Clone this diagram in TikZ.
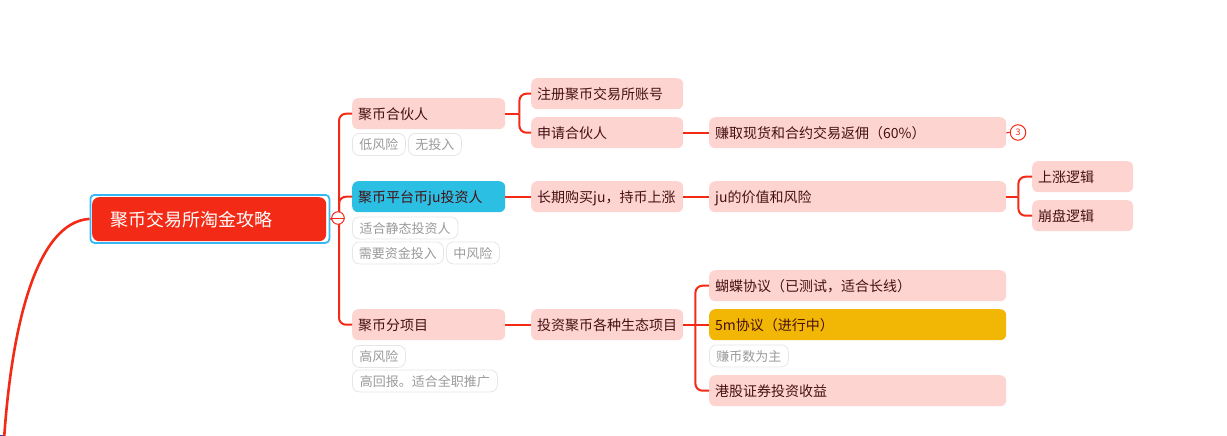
\documentclass[tikz,border=0pt]{standalone}
\usepackage{fontspec}
\setmainfont{Noto Sans CJK SC}
\definecolor{linkred}{HTML}{F32A16}
\definecolor{pinkfill}{HTML}{FDD4D0}
\definecolor{bluefill}{HTML}{2BBFE3}
\definecolor{goldfill}{HTML}{F2B705}
\definecolor{pinktext}{HTML}{451012}
\definecolor{tagline}{HTML}{E6E6E6}
\definecolor{tagtext}{HTML}{9A9A9A}
\definecolor{selectblue}{HTML}{35B8F5}
\definecolor{parentblue}{HTML}{3344CC}
\tikzset{
	topicbox/.style={anchor=north west, rounded corners=6, fill=pinkfill, text=pinktext, font=\fontsize{14}{14}\selectfont, align=left, text width=#1-12, text height=13, text depth=1, minimum height=31, inner xsep=6, inner ysep=0},
	tagbox/.style={anchor=north west, rounded corners=7, draw=tagline, fill=white, line width=0.8, text=tagtext, font=\fontsize{13}{13}\selectfont, text height=12, text depth=1, minimum height=22, minimum width=#1, inner xsep=0, inner ysep=0},
	link/.style={line width=2, color=linkred, rounded corners=7},
	marker/.style={circle, draw=linkred, fill=white, line width=1, text=linkred, inner sep=0},
}

\begin{document}
\begin{tikzpicture}[x=1pt, y=-1pt]
		%%%%% START %%%%%
		\useasboundingbox (0, 0) rectangle (1227, 436);
		
		\fill[parentblue] (0, 435) rectangle (5, 436);
		
		% root
		\node[anchor=north west, draw=selectblue, line width=1.8, rounded corners=4, minimum width=239, minimum height=48, inner sep=0] (select) at (89.5, 194) {};
		\node[topicbox=234, rounded corners=7, minimum height=44, fill=linkred, text=white, font=\fontsize{18}{18}\selectfont, text height=16, text depth=2, inner xsep=18, text width=198] (root) at (92, 197) {聚币交易所淘金攻略};
		\coordinate (start) at (4, 440);
		\coordinate (trunk) at (339, 218);
		
		% first level
		\node[topicbox=153] (partner) at (352, 98) {聚币合伙人};
		\node[topicbox=153, fill=bluefill] (holder) at (352, 181) {聚币平台币ju投资人};
		\node[topicbox=153] (project) at (352, 309) {聚币分项目};
		
		\node[tagbox=53] (lowrisk) at (352, 133) {低风险};
		\node[tagbox=53] (noinput) at (408, 133) {无投入};
		\node[tagbox=105.5] (static) at (352, 216.5) {适合静态投资人};
		\node[tagbox=91] (funds) at (352, 241.5) {需要资金投入};
		\node[tagbox=53] (midrisk) at (446, 241.5) {中风险};
		\node[tagbox=53] (highrisk) at (352, 345) {高风险};
		\node[tagbox=145] (highreturn) at (352, 369.5) {高回报。适合全职推广};
		
		% second level
		\node[topicbox=152] (register) at (531, 78) {注册聚币交易所账号};
		\node[topicbox=152] (apply) at (531, 117) {申请合伙人};
		\node[topicbox=152] (longterm) at (531, 181) {长期购买ju，持币上涨};
		\node[topicbox=152] (invest) at (531, 309) {投资聚币各种生态项目};
		
		% third level
		\node[topicbox=297] (rebate) at (709, 117) {赚取现货和合约交易返佣（60\%）};
		\node[topicbox=297] (value) at (709, 181) {ju的价值和风险};
		\node[topicbox=297] (butterfly) at (709, 270) {蝴蝶协议（已测试，适合长线）};
		\node[topicbox=297, fill=goldfill] (fivem) at (709, 309) {5m协议（进行中）};
		\node[tagbox=79] (earncoin) at (709, 344.5) {赚币数为主};
		\node[topicbox=297] (hkstock) at (709, 375) {港股证券投资收益};
		
		% fourth level
		\node[topicbox=101] (rise) at (1032, 161) {上涨逻辑};
		\node[topicbox=101] (crash) at (1032, 200) {崩盘逻辑};
		
		% connectors
		\draw[link, line width=2.6] (start) .. controls (12, 320) and (38, 222) .. (select.west);
		\draw[link] (select.east) -- (trunk);
		\draw[link] (trunk) |- (partner.west);
		\draw[link] (trunk) |- (holder.west);
		\draw[link] (trunk) |- (project.west);
		
		\draw[link] (partner.east) -- ++(14, 0) coordinate (forkone);
		\draw[link] (forkone) |- (register.west);
		\draw[link] (forkone) |- (apply.west);
		\draw[link] (holder.east) -- (longterm.west);
		\draw[link] (project.east) -- (invest.west);
		
		\draw[link] (apply.east) -- (rebate.west);
		\draw[link] (longterm.east) -- (value.west);
		\draw[link] (invest.east) -- (fivem.west);
		\draw[link] (invest.east) -- ++(12, 0) coordinate (forktwo);
		\draw[link] (forktwo) |- (butterfly.west);
		\draw[link] (forktwo) |- (hkstock.west);
		
		\draw[link] (value.east) -- ++(12, 0) coordinate (forkthree);
		\draw[link] (forkthree) |- (rise.west);
		\draw[link] (forkthree) |- (crash.west);
		
		% markers
		\node[marker, minimum size=15.5] (counter) at (1018, 132.5) {\fontsize{9}{9}\selectfont 3};
		\draw[link, line width=1.2] (rebate.east) -- (counter.west);
		\node[marker, minimum size=12.5] (collapse) at (338, 218) {};
		\draw[line width=1, color=linkred] (collapse.west) -- (collapse.east);
		
		%%%%% END %%%%%
	\end{tikzpicture}
\end{document}
